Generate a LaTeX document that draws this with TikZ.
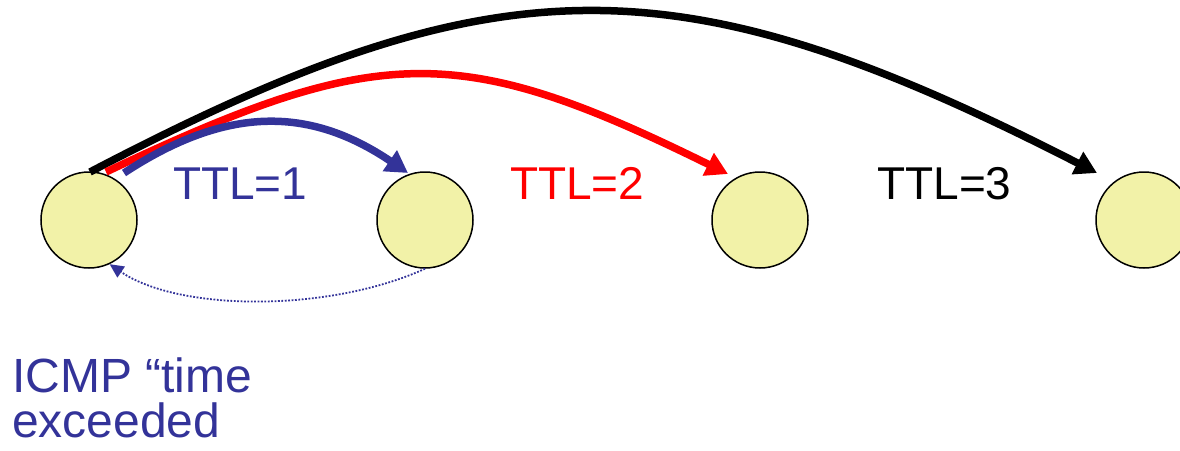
\documentclass[tikz,border=0pt]{standalone}
\usepackage{fontspec}
\setmainfont{Liberation Sans}
\usetikzlibrary{arrows.meta}
\definecolor{hostfill}{HTML}{F2F2A8}
\definecolor{navy}{HTML}{333399}
\definecolor{hopred}{HTML}{FF0000}
\tikzset{
  host/.style={circle, draw=black, line width=1.5pt, fill=hostfill, minimum size=96pt, inner sep=0pt},
  hop/.style={line width=7.5pt, -{Triangle[length=22pt,width=24pt]}},
  ttl/.style={font=\fontsize{46pt}{46pt}\selectfont, anchor=base west, inner sep=0pt},
  reply/.style={navy, line width=1.8pt, dash pattern=on 1.8pt off 1.6pt,
                -{Triangle[length=14pt,width=13pt]}}
}
\begin{document}
\begin{tikzpicture}[x=1pt,y=-1pt]
\useasboundingbox (0,0) rectangle (1180,450);

% routers along the path
\node[host] (h1) at (89,220) {};
\node[host] (h2) at (425,220) {};
\node[host] (h3) at (760,220) {};
\node[host] (h4) at (1144,220) {};

% start and end points of the probes
\coordinate (s3) at (90,172);
\coordinate (s2) at (106,172);
\coordinate (s1) at (124,173);
\coordinate (e1) at (408,173);
\coordinate (e2) at (728,174);
\coordinate (e3) at (1097,173);

% probes with growing TTL
\draw[hop, black] (s3) .. controls (499,-42) and (677,-42) .. (e3);
\draw[hop, hopred] (s2) .. controls (380,42) and (460,42) .. (e2);
\draw[hop, navy] (s1) .. controls (226,106) and (309,106) .. (e1);

\node[ttl, navy] (t1) at (173,199) {TTL=1};
\node[ttl, hopred] (t2) at (510,199) {TTL=2};
\node[ttl, black] (t3) at (877,199) {TTL=3};

% ICMP reply from the first router
\draw[reply] (h2.south) .. controls (330,312) and (180,312) .. (h1.-65);

\node[navy, anchor=base west, inner sep=0pt, align=left,
      font=\fontsize{48pt}{45pt}\selectfont] (msg) at (12,437)
  {ICMP “time\\exceeded};
\end{tikzpicture}
\end{document}
